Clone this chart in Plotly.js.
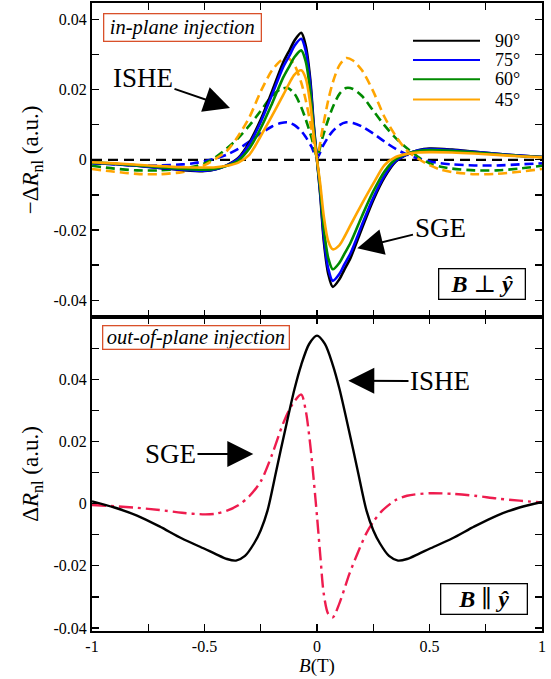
<!DOCTYPE html>
<html>
<head>
<meta charset="utf-8">
<script src="https://cdn.plot.ly/plotly-3.0.1.min.js"></script>
<style>html,body{margin:0;padding:0;background:#fff}#plot{width:551px;height:679px}</style>
</head>
<body>
<div id="plot"></div>
<script>
// ---------- DATA ----------
// top panel, solid curves (SGE-like), field values in T
const bSolid = [-1,-0.9,-0.8,-0.7,-0.6,-0.5,-0.45,-0.4,-0.35,-0.3,-0.25,-0.2,-0.15,-0.12,-0.1,-0.07,-0.05,-0.03,-0.015,0,0.015,0.03,0.05,0.07,0.1,0.12,0.15,0.2,0.25,0.3,0.35,0.4,0.45,0.5,0.6,0.7,0.8,0.9,1];
const solid90 = [-0.0008,-0.0012,-0.0017,-0.0023,-0.0029,-0.0032,-0.0027,-0.0015,0.0005,0.005,0.0115,0.0195,0.0278,0.0315,0.034,0.0362,0.0325,0.023,0.0105,0,-0.0105,-0.023,-0.0325,-0.0362,-0.034,-0.0315,-0.0278,-0.0195,-0.0115,-0.005,-0.0005,0.0015,0.0027,0.0032,0.0029,0.0023,0.0017,0.0012,0.0008];
const solid75 = [-0.0008,-0.0012,-0.0017,-0.0023,-0.0028,-0.0031,-0.0027,-0.0016,0.0003,0.0045,0.0108,0.0185,0.0265,0.030,0.0325,0.0345,0.031,0.0218,0.0098,0,-0.0098,-0.0218,-0.031,-0.0345,-0.0325,-0.030,-0.0265,-0.0185,-0.0108,-0.0045,-0.0003,0.0016,0.0027,0.0031,0.0028,0.0023,0.0017,0.0012,0.0008];
const solid60 = [-0.0008,-0.0011,-0.0016,-0.0021,-0.0026,-0.0028,-0.0025,-0.0017,-0.0002,0.0033,0.009,0.016,0.0235,0.027,0.0293,0.0312,0.028,0.0195,0.0088,0,-0.0088,-0.0195,-0.028,-0.0312,-0.0293,-0.027,-0.0235,-0.016,-0.009,-0.0033,0.0002,0.0017,0.0025,0.0028,0.0026,0.0021,0.0016,0.0011,0.0008];
const solid45 = [-0.0007,-0.001,-0.0014,-0.0018,-0.0021,-0.0022,-0.0021,-0.0017,-0.0008,0.0015,0.0068,0.0125,0.0185,0.0222,0.0243,0.0255,0.0232,0.016,0.0072,0,-0.0072,-0.016,-0.0232,-0.0255,-0.0243,-0.0222,-0.0185,-0.0125,-0.0068,-0.0015,0.0008,0.0017,0.0021,0.0022,0.0021,0.0018,0.0014,0.001,0.0007];

// top panel, dashed curves (ISHE-like)
const bDashed = [-1,-0.9,-0.8,-0.7,-0.6,-0.55,-0.5,-0.45,-0.4,-0.35,-0.3,-0.25,-0.2,-0.16,-0.13,-0.1,-0.07,-0.05,-0.025,0,0.025,0.05,0.07,0.1,0.13,0.16,0.2,0.25,0.3,0.35,0.4,0.45,0.5,0.55,0.6,0.7,0.8,0.9,1];
const dashed75 = [-0.001,-0.0013,-0.0016,-0.0016,-0.0013,-0.001,-0.0004,0.0004,0.0015,0.0031,0.0052,0.0075,0.0095,0.0105,0.0107,0.0099,0.0082,0.0065,0.0038,0.0005,0.0038,0.0065,0.0082,0.0099,0.0107,0.0105,0.0095,0.0075,0.0052,0.0031,0.0015,0.0004,-0.0004,-0.001,-0.0013,-0.0016,-0.0016,-0.0013,-0.001];
const dashed60 = [-0.0017,-0.0025,-0.003,-0.003,-0.0025,-0.002,-0.001,0.0008,0.0033,0.0062,0.0098,0.014,0.0182,0.0202,0.0205,0.0188,0.015,0.0115,0.0065,0.001,0.0065,0.0115,0.015,0.0188,0.0205,0.0202,0.0182,0.014,0.0098,0.0062,0.0033,0.0008,-0.001,-0.002,-0.0025,-0.003,-0.003,-0.0025,-0.0017];
const dashed45 = [-0.0026,-0.0034,-0.004,-0.0041,-0.0035,-0.0028,-0.0015,0.0003,0.0026,0.0068,0.0122,0.0195,0.0255,0.0283,0.029,0.027,0.022,0.017,0.009,0.001,0.009,0.017,0.022,0.027,0.029,0.0283,0.0255,0.0195,0.0122,0.0068,0.0026,0.0003,-0.0015,-0.0028,-0.0035,-0.0041,-0.004,-0.0034,-0.0026];
const zeroLineX = [-1, 1];
const zeroLineY = [0, 0];

// bottom panel
const bIshe = [-1,-0.9,-0.8,-0.7,-0.6,-0.5,-0.45,-0.4,-0.36,-0.32,-0.28,-0.25,-0.22,-0.18,-0.14,-0.1,-0.07,-0.035,0,0.035,0.07,0.1,0.14,0.18,0.22,0.25,0.28,0.32,0.36,0.4,0.45,0.5,0.6,0.7,0.8,0.9,1];
const isheOut = [0.0008,-0.0012,-0.0038,-0.0073,-0.0112,-0.0145,-0.0162,-0.0178,-0.0183,-0.0168,-0.0128,-0.0085,-0.0022,0.011,0.0243,0.037,0.0448,0.0515,0.0542,0.0515,0.0448,0.037,0.0243,0.011,-0.0022,-0.0085,-0.0128,-0.0168,-0.0183,-0.0178,-0.0162,-0.0145,-0.0112,-0.0073,-0.0038,-0.0012,0.0006];
const bSge = [-1,-0.9,-0.8,-0.7,-0.6,-0.5,-0.45,-0.4,-0.35,-0.3,-0.25,-0.2,-0.15,-0.11,-0.07,-0.05,-0.03,-0.015,0,0.015,0.03,0.05,0.07,0.1,0.144,0.18,0.218,0.25,0.29,0.35,0.4,0.5,0.6,0.7,0.8,0.9,1];
const sgeOut = [-0.0004,-0.0008,-0.0013,-0.002,-0.0029,-0.0034,-0.0032,-0.0022,-0.0005,0.0025,0.0072,0.0158,0.026,0.032,0.0352,0.030,0.019,0.008,-0.004,-0.017,-0.029,-0.0355,-0.0366,-0.032,-0.0226,-0.016,-0.0097,-0.0058,-0.0022,0.0012,0.0026,0.0034,0.0032,0.0026,0.0017,0.001,0.0004];

const angleLabels = ['90°','75°','60°','45°'];
const xTickVals = [-1,-0.5,0,0.5,1];
const xTickText = ['-1','-0.5','0','0.5','1'];
const xMinorVals = [-0.75,-0.25,0.25,0.75];
const yTopTickVals = [-0.04,-0.02,0,0.02,0.04];
const yTopTickText = ['-0.04','-0.02','0','0.02','0.04'];
const yTopMinorVals = [-0.03,-0.01,0.01,0.03];
const yBotTickVals = [-0.04,-0.02,0,0.02,0.04];
const yBotTickText = ['-0.04','-0.02','0','0.02','0.04'];
const yBotMinorVals = [-0.03,-0.01,0.01,0.03,0.05];

// ---------- STYLE ----------
const C = {k:'#000000', b:'#0000ff', g:'#008a00', o:'#ffa500', r:'#ee1c4e'};
const SERIF = 'Liberation Serif, DejaVu Serif, serif';
const LW = 2.6;
const DASH = '9px,5px';

function tr(x, y, color, dash, name, axes, width) {
  return {x:x, y:y, type:'scatter', mode:'lines', name:name,
    xaxis:axes[0], yaxis:axes[1], showlegend:false, hoverinfo:'skip',
    line:{color:color, width:width||LW, dash:dash||'solid', shape:'spline', smoothing:0.8}};
}
const topAx = ['x2','y2'], botAx = ['x','y'];
const traces = [
  tr(zeroLineX, zeroLineY, C.k, '10px,6px', 'zero', topAx, 2.2),
  tr(bDashed, dashed75, C.b, DASH, 'ISHE 75°', topAx),
  tr(bDashed, dashed60, C.g, DASH, 'ISHE 60°', topAx),
  tr(bDashed, dashed45, C.o, DASH, 'ISHE 45°', topAx),
  tr(bSolid, solid90, C.k, 'solid', angleLabels[0], topAx),
  tr(bSolid, solid75, C.b, 'solid', angleLabels[1], topAx),
  tr(bSolid, solid60, C.g, 'solid', angleLabels[2], topAx),
  tr(bSolid, solid45, C.o, 'solid', angleLabels[3], topAx),
  tr(bSge, sgeOut, C.r, '14px,5px,3px,5px', 'SGE', botAx, 2.4),
  tr(bIshe, isheOut, C.k, 'solid', 'ISHE', botAx, 2.4)
];

function axBase(minorVals) {
  return {
    showline:true, linewidth:2, linecolor:'#000', mirror:'ticks',
    ticks:'inside', ticklen:7, tickwidth:1.3, tickcolor:'#000',
    showgrid:false, zeroline:false, automargin:false,
    tickfont:{family:SERIF, size:16, color:'#000'},
    minor:{tickmode:'array', tickvals:minorVals, ticks:'inside', ticklen:7, tickwidth:1.3, tickcolor:'#000', showgrid:false}
  };
}
function px2x(px){ return (px-92)/450; }
function px2y(py){ return (631-py)/628; }

const legendColors = [C.k, C.b, C.g, C.o];
const legendRows = [40.7, 60, 79.3, 99.5];
const shapes = [], annotations = [];
legendRows.forEach((ry, i) => {
  shapes.push({type:'line', xref:'paper', yref:'paper', x0:px2x(413), x1:px2x(480), y0:px2y(ry), y1:px2y(ry),
    line:{color:legendColors[i], width:2}});
  annotations.push({xref:'paper', yref:'paper', x:px2x(493), y:px2y(ry), xanchor:'left', yanchor:'middle',
    text:angleLabels[i], showarrow:false, font:{family:SERIF, size:18, color:'#000'}});
});

function box(text, left, topPx, w, h, border, size) {
  return {xref:'paper', yref:'paper', x:px2x(left), y:px2y(topPx), xanchor:'left', yanchor:'top', text:text, showarrow:false,
    width:w, height:h, align:'center', valign:'middle',
    bordercolor:border, borderwidth:1.3, borderpad:0, bgcolor:'#fff',
    font:{family:SERIF, size:size, color:'#000'}};
}
const BI = 'font-weight:bold;font-style:italic';
annotations.push(box('<i>in-plane injection</i>', 102.7, 13.3, 156, 26, '#d9502a', 20.5));
annotations.push(box('<i>out-of-plane injection</i>', 101.7, 324.5, 185, 22, '#d9502a', 20.5));
annotations.push(box('<span style="'+BI+'">B</span> ⊥ <span style="'+BI+'">ŷ</span>', 438.3, 267.7, 85, 29, '#000', 24));
annotations.push(box('<span style="'+BI+'">B</span> ∥ <span style="'+BI+'">ŷ</span>', 440, 582.7, 85, 29, '#000', 24));

// labels with arrows: text centred at the tail offset, arrow tip at (tipx, tipy)
function arrowLabel(text, cx, cy, tipx, tipy) {
  return {xref:'paper', yref:'paper', x:px2x(tipx), y:px2y(tipy), ax:cx-tipx, ay:cy-tipy,
    text:text, showarrow:true, arrowhead:2, arrowsize:2.6, arrowwidth:2, arrowcolor:'#000', standoff:0,
    startstandoff:0, font:{family:SERIF, size:27, color:'#000'}};
}
annotations.push(arrowLabel('ISHE', 143, 78, 230, 108));
annotations.push(arrowLabel('SGE', 440, 228, 357.3, 248.3));
annotations.push(arrowLabel('ISHE', 440, 381, 348.3, 380.7));
annotations.push(arrowLabel('SGE', 170.5, 454, 253.3, 454));

const layout = {
  width:551, height:679,
  margin:{l:92, r:9, t:3, b:48},
  paper_bgcolor:'#fff', plot_bgcolor:'#fff',
  showlegend:false,
  font:{family:SERIF, color:'#000'},
  xaxis: Object.assign(axBase(xMinorVals), {anchor:'y', domain:[0,1], range:[-1,1],
    tickmode:'array', tickvals:xTickVals, ticktext:xTickText,
    title:{text:'<i>B</i>(T)', font:{family:SERIF, size:19, color:'#000'}, standoff:1}}),
  xaxis2: Object.assign(axBase(xMinorVals), {anchor:'y2', matches:'x', range:[-1,1],
    tickmode:'array', tickvals:xTickVals, ticktext:xTickText, showticklabels:false}),
  yaxis: Object.assign(axBase(yBotMinorVals), {anchor:'x', domain:[0,0.5], range:[-0.041,0.0602],
    tickmode:'array', tickvals:yBotTickVals, ticktext:yBotTickText,
    title:{text:'Δ<i>R</i><sub>nl</sub> (a.u.)', font:{family:SERIF, size:23, color:'#000'}, standoff:8}}),
  yaxis2: Object.assign(axBase(yTopMinorVals), {anchor:'x2', domain:[0.5,1], range:[-0.0448,0.0447],
    tickmode:'array', tickvals:yTopTickVals, ticktext:yTopTickText,
    title:{text:'−Δ<i>R</i><sub>nl</sub> (a.u.)', font:{family:SERIF, size:23, color:'#000'}, standoff:8}}),
  shapes:shapes,
  annotations:annotations
};

Plotly.newPlot('plot', traces, layout, {displayModeBar:false, staticPlot:true});
</script>
</body>
</html>
